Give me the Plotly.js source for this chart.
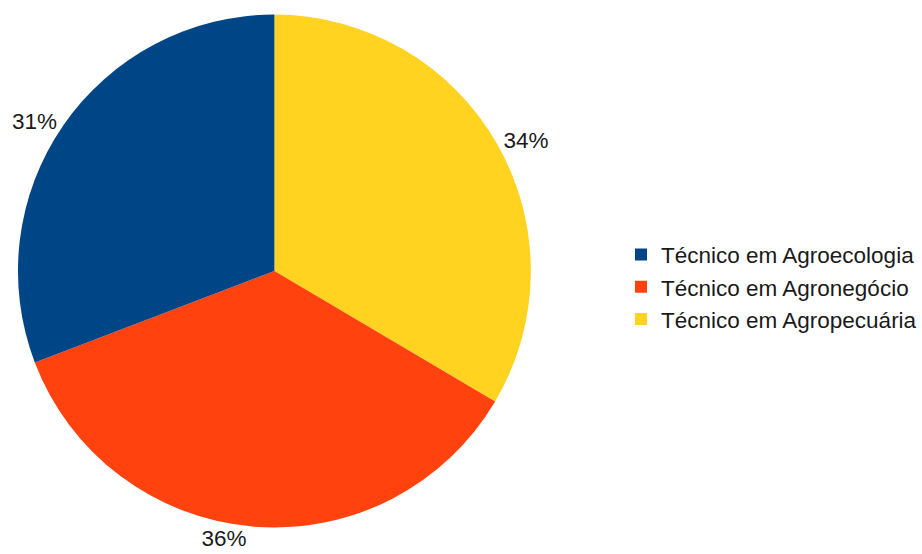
<!DOCTYPE html>
<html>
<head>
<meta charset="utf-8">
<script src="https://cdn.plot.ly/plotly-3.0.1.min.js"></script>
<style>html,body{margin:0;padding:0;background:#fff;}#chart{width:922px;height:554px;}</style>
</head>
<body>
<div id="chart"></div>
<script>
const categories = ['Técnico em Agropecuária', 'Técnico em Agronegócio', 'Técnico em Agroecologia'];
const shares = [33.5, 35.7, 30.8];
const colors = ['#ffd320', '#ff420e', '#004586'];

const W = 922, H = 554;
const cx = 275, cy = 271, r = 257;

Plotly.newPlot('chart', [{
  type: 'pie',
  labels: categories,
  values: shares,
  sort: false,
  direction: 'clockwise',
  rotation: 0,
  marker: {colors: colors, line: {width: 0}},
  textposition: 'outside',
  texttemplate: '%{percent:.0%}',
  textfont: {family: 'Liberation Sans, Arial, sans-serif', size: 22.5, color: '#1a1a1a'},
  hoverinfo: 'label+percent',
  domain: {x: [(cx - r) / W, (cx + r) / W], y: [(H - cy - r) / H, (H - cy + r) / H]},
  automargin: false
}], {
  width: W, height: H,
  margin: {l: 0, r: 0, t: 0, b: 0},
  paper_bgcolor: '#fff',
  showlegend: true,
  legend: {
    x: 0.675, xanchor: 'left', y: 0.482, yanchor: 'middle',
    traceorder: 'reversed',
    font: {family: 'Liberation Sans, Arial, sans-serif', size: 22.5, color: '#1a1a1a'},
    tracegroupgap: 0
  }
}, {staticPlot: true});
</script>
</body>
</html>
